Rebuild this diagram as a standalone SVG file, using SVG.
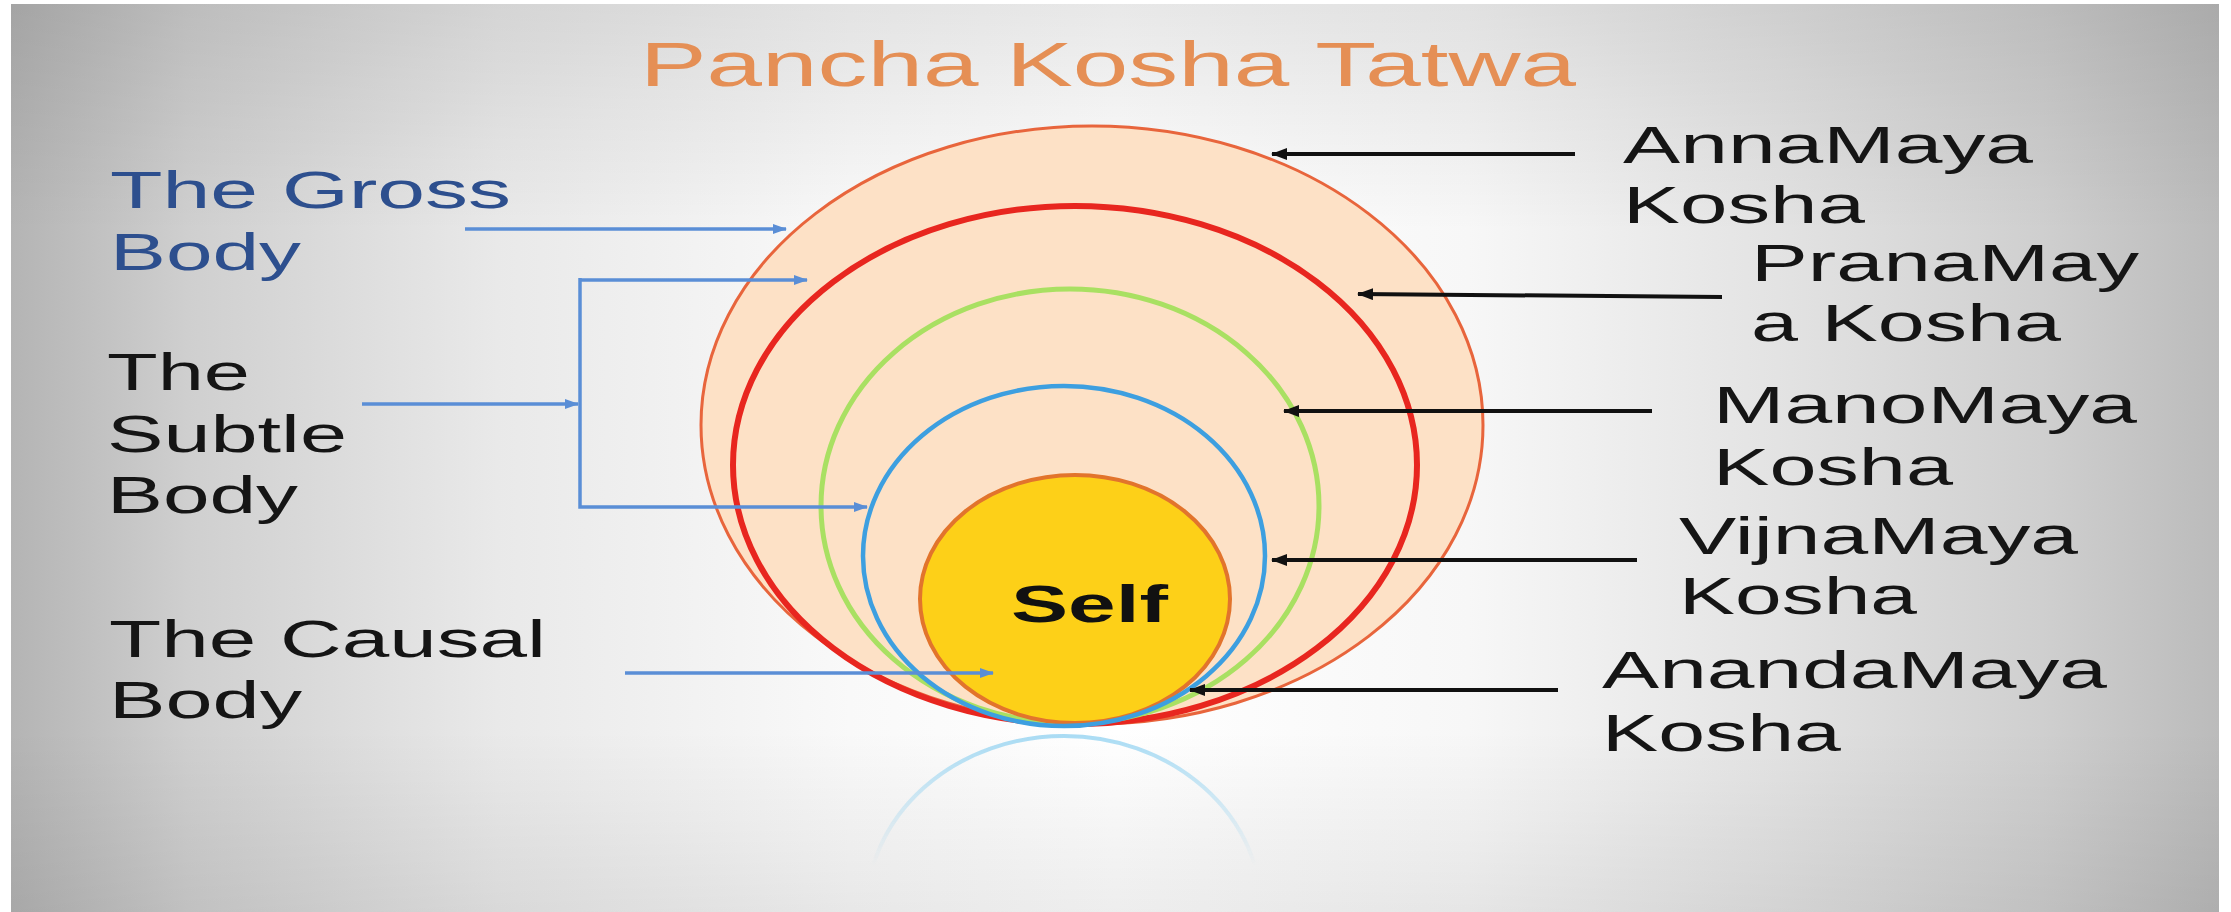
<svg xmlns="http://www.w3.org/2000/svg" width="2231" height="912" viewBox="0 0 2231 912">
  <defs>
    <linearGradient id="bgH" x1="0" y1="0" x2="1" y2="0">
      <stop offset="0" stop-color="#b4b4b4"/>
      <stop offset="0.08" stop-color="#cfcfcf"/>
      <stop offset="0.22" stop-color="#e9e9e9"/>
      <stop offset="0.38" stop-color="#f9f9f9"/>
      <stop offset="0.5" stop-color="#ffffff"/>
      <stop offset="0.66" stop-color="#f7f7f7"/>
      <stop offset="0.8" stop-color="#e3e3e3"/>
      <stop offset="0.92" stop-color="#cfcfcf"/>
      <stop offset="1" stop-color="#bbbbbb"/>
    </linearGradient>
    <linearGradient id="bgV" x1="0" y1="0" x2="0" y2="1">
      <stop offset="0" stop-color="#000" stop-opacity="0.09"/>
      <stop offset="0.25" stop-color="#000" stop-opacity="0"/>
      <stop offset="0.8" stop-color="#000" stop-opacity="0"/>
      <stop offset="1" stop-color="#000" stop-opacity="0.07"/>
    </linearGradient>
    <linearGradient id="fadeG" gradientUnits="userSpaceOnUse" x1="0" y1="735" x2="0" y2="865">
      <stop offset="0" stop-color="#fff" stop-opacity="1"/>
      <stop offset="1" stop-color="#fff" stop-opacity="0"/>
    </linearGradient>
    <mask id="fadeM" maskUnits="userSpaceOnUse" x="0" y="700" width="2231" height="212">
      <rect x="0" y="700" width="2231" height="212" fill="url(#fadeG)"/>
    </mask>
    <marker id="ahK" markerWidth="16" markerHeight="12" refX="15" refY="6" orient="auto" markerUnits="userSpaceOnUse">
      <path d="M0,0 L16,6 L0,12 z" fill="#111111"/>
    </marker>
    <marker id="ahB" markerWidth="14" markerHeight="10" refX="13" refY="5" orient="auto" markerUnits="userSpaceOnUse">
      <path d="M0,0 L14,5 L0,10 z" fill="#5a8ed6"/>
    </marker>
    <style>
      .lbl { font-family: "Liberation Sans", Arial, sans-serif; font-size: 51px; fill: #151515; }
      .lft { font-family: "Liberation Sans", Arial, sans-serif; font-size: 52px; fill: #151515; }
      .gross { fill: #2d4f8e; }
      .title { font-family: "Liberation Sans", Arial, sans-serif; font-size: 63px; fill: #e58f55; }
      .self { font-family: "Liberation Sans", Arial, sans-serif; font-size: 52px; font-weight: bold; fill: #111111; }
      .kline { stroke: #111111; stroke-width: 4; fill: none; marker-end: url(#ahK); }
      .bline { stroke: #5a8ed6; stroke-width: 3.5; fill: none; }
      .barrow { marker-end: url(#ahB); }
    </style>
  </defs>

  <g id="background">
    <rect x="0" y="0" width="2231" height="912" fill="#ffffff"/>
    <rect x="11" y="4" width="2208" height="908" fill="url(#bgH)"/>
    <rect x="11" y="4" width="2208" height="908" fill="url(#bgV)"/>
  </g>

  <g id="title">
    <text class="title" x="640" y="86" textLength="936" lengthAdjust="spacingAndGlyphs">Pancha Kosha Tatwa</text>
  </g>

  <g id="reflection">
    <ellipse cx="1064" cy="912" rx="198" ry="176" fill="none" stroke="#86cdf0" stroke-width="4" stroke-opacity="0.7" mask="url(#fadeM)"/>
  </g>

  <g id="annamaya">
    <ellipse cx="1092" cy="425" rx="391" ry="299" fill="#fde1c6" stroke="#e8653c" stroke-width="3"/>
  </g>
  <g id="pranamaya">
    <ellipse cx="1075" cy="465" rx="342" ry="259" fill="none" stroke="#e8261f" stroke-width="6"/>
  </g>
  <g id="manomaya">
    <ellipse cx="1070" cy="506" rx="249" ry="217" fill="none" stroke="#a9e062" stroke-width="5"/>
  </g>
  <g id="self">
    <ellipse cx="1075" cy="599" rx="155" ry="124" fill="#fdd018" stroke="#e2742c" stroke-width="4"/>
    <text class="self" x="1011" y="622" textLength="157" lengthAdjust="spacingAndGlyphs">Self</text>
  </g>
  <g id="vijnamaya">
    <ellipse cx="1064" cy="556" rx="201" ry="170" fill="none" stroke="#3d9fe0" stroke-width="4.5"/>
  </g>

  <g id="left-labels">
    <g id="gross-body">
      <text class="lft gross" x="110" y="208" textLength="401" lengthAdjust="spacingAndGlyphs">The Gross</text>
      <text class="lft gross" x="110" y="270" textLength="191" lengthAdjust="spacingAndGlyphs">Body</text>
    </g>
    <g id="subtle-body">
      <text class="lft" x="107" y="390" textLength="143" lengthAdjust="spacingAndGlyphs">The</text>
      <text class="lft" x="107" y="452" textLength="240" lengthAdjust="spacingAndGlyphs">Subtle</text>
      <text class="lft" x="107" y="513" textLength="191" lengthAdjust="spacingAndGlyphs">Body</text>
    </g>
    <g id="causal-body">
      <text class="lft" x="109" y="657" textLength="437" lengthAdjust="spacingAndGlyphs">The Causal</text>
      <text class="lft" x="109" y="718" textLength="193" lengthAdjust="spacingAndGlyphs">Body</text>
    </g>
  </g>

  <g id="right-labels">
    <g id="lbl-annamaya">
      <text class="lbl" x="1623" y="163" textLength="410" lengthAdjust="spacingAndGlyphs">AnnaMaya</text>
      <text class="lbl" x="1623" y="223" textLength="242" lengthAdjust="spacingAndGlyphs">Kosha</text>
    </g>
    <g id="lbl-pranamaya">
      <text class="lbl" x="1751" y="281" textLength="388" lengthAdjust="spacingAndGlyphs">PranaMay</text>
      <text class="lbl" x="1751" y="341" textLength="310" lengthAdjust="spacingAndGlyphs">a Kosha</text>
    </g>
    <g id="lbl-manomaya">
      <text class="lbl" x="1713" y="423" textLength="424" lengthAdjust="spacingAndGlyphs">ManoMaya</text>
      <text class="lbl" x="1713" y="485" textLength="240" lengthAdjust="spacingAndGlyphs">Kosha</text>
    </g>
    <g id="lbl-vijnamaya">
      <text class="lbl" x="1679" y="554" textLength="399" lengthAdjust="spacingAndGlyphs">VijnaMaya</text>
      <text class="lbl" x="1679" y="614" textLength="238" lengthAdjust="spacingAndGlyphs">Kosha</text>
    </g>
    <g id="lbl-anandamaya">
      <text class="lbl" x="1602" y="688" textLength="505" lengthAdjust="spacingAndGlyphs">AnandaMaya</text>
      <text class="lbl" x="1602" y="751" textLength="239" lengthAdjust="spacingAndGlyphs">Kosha</text>
    </g>
  </g>

  <g id="connectors">
    <line class="kline" x1="1575" y1="154" x2="1272" y2="154"/>
    <line class="kline" x1="1722" y1="297" x2="1358" y2="294"/>
    <line class="kline" x1="1652" y1="411" x2="1284" y2="411"/>
    <line class="kline" x1="1637" y1="560" x2="1272" y2="560"/>
    <line class="kline" x1="1558" y1="690" x2="1190" y2="690"/>

    <line class="bline barrow" x1="465" y1="229" x2="786" y2="229"/>
    <path class="bline barrow" d="M580,280 H807"/>
    <path class="bline barrow" d="M580,278 V507 H867"/>
    <line class="bline barrow" x1="362" y1="404" x2="578" y2="404"/>
    <line class="bline barrow" x1="625" y1="673" x2="993" y2="673"/>
  </g>
</svg>
